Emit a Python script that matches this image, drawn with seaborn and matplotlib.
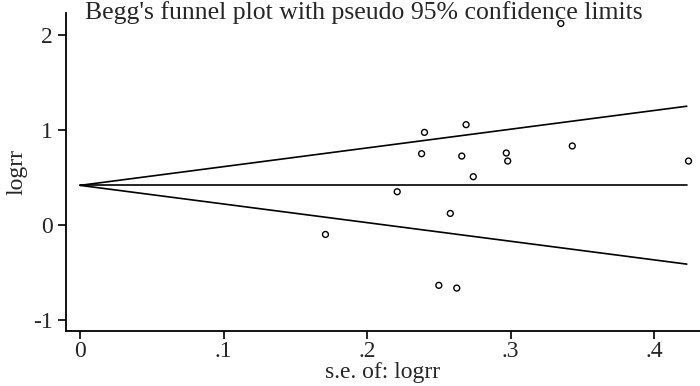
import matplotlib
matplotlib.use("Agg")
import matplotlib.pyplot as plt
import seaborn as sns
import pandas as pd

# study data: standard error and log risk ratio
se = [0.335, 0.240, 0.269, 0.238, 0.266, 0.297, 0.298, 0.343, 0.424,
      0.274, 0.221, 0.258, 0.171, 0.250, 0.2625]
logrr = [2.12, 0.975, 1.056, 0.751, 0.726, 0.758, 0.674, 0.832, 0.674,
         0.509, 0.351, 0.123, -0.098, -0.633, -0.662]

# pooled estimate and pseudo 95% limits (endpoints at se=0 and se=max)
line_se = [0.0, 0.4228]
pooled = [0.418, 0.418]
upper = [0.418, 1.25]
lower = [0.418, -0.41]

xticks = [0, 0.1, 0.2, 0.3, 0.4]
xticklabels = ["0", ".1", ".2", ".3", ".4"]
yticks = [-1, 0, 1, 2]

sns.set_style("white")
plt.rcParams["font.family"] = ["Liberation Serif", "DejaVu Serif"]
plt.rcParams["axes.unicode_minus"] = False

fig = plt.figure(figsize=(7, 3.86), dpi=100)
ax = fig.add_axes([66 / 700, (386 - 331) / 386, 634 / 700, (331 - 13) / 386])

df = pd.DataFrame({"se": se, "logrr": logrr})
lines = pd.DataFrame({"se": line_se * 3,
                      "val": pooled + upper + lower,
                      "grp": ["p", "p", "u", "u", "l", "l"]})

sns.lineplot(data=lines, x="se", y="val", units="grp", estimator=None,
             color="black", linewidth=1.2, ax=ax)
sns.scatterplot(data=df, x="se", y="logrr", s=18, facecolors="none",
                edgecolor="black", linewidth=1.0, ax=ax, zorder=3)

ax.set_xlim(-0.0098, 0.432)
ax.set_ylim(-1.113, 2.23)
ax.set_xticks(xticks)
ax.set_xticklabels(xticklabels)
ax.set_yticks(yticks)
ax.tick_params(axis="both", direction="out", length=6, width=1.2,
               labelsize=17, color="black", left=True, bottom=True)
ax.tick_params(axis="x", pad=1)
ax.set_xlabel("s.e. of: logrr", fontsize=17, labelpad=0)
ax.set_ylabel("logrr", fontsize=17, labelpad=4)
ax.spines["top"].set_visible(False)
ax.spines["right"].set_visible(False)
for s in ["left", "bottom"]:
    ax.spines[s].set_color("black")
    ax.spines[s].set_linewidth(1.3)

fig.text(85 / 700, 1 - 1 / 386, "Begg's funnel plot with pseudo 95% confidence limits",
         fontsize=18.5, ha="left", va="top")

fig.savefig("out.png", dpi=100)
